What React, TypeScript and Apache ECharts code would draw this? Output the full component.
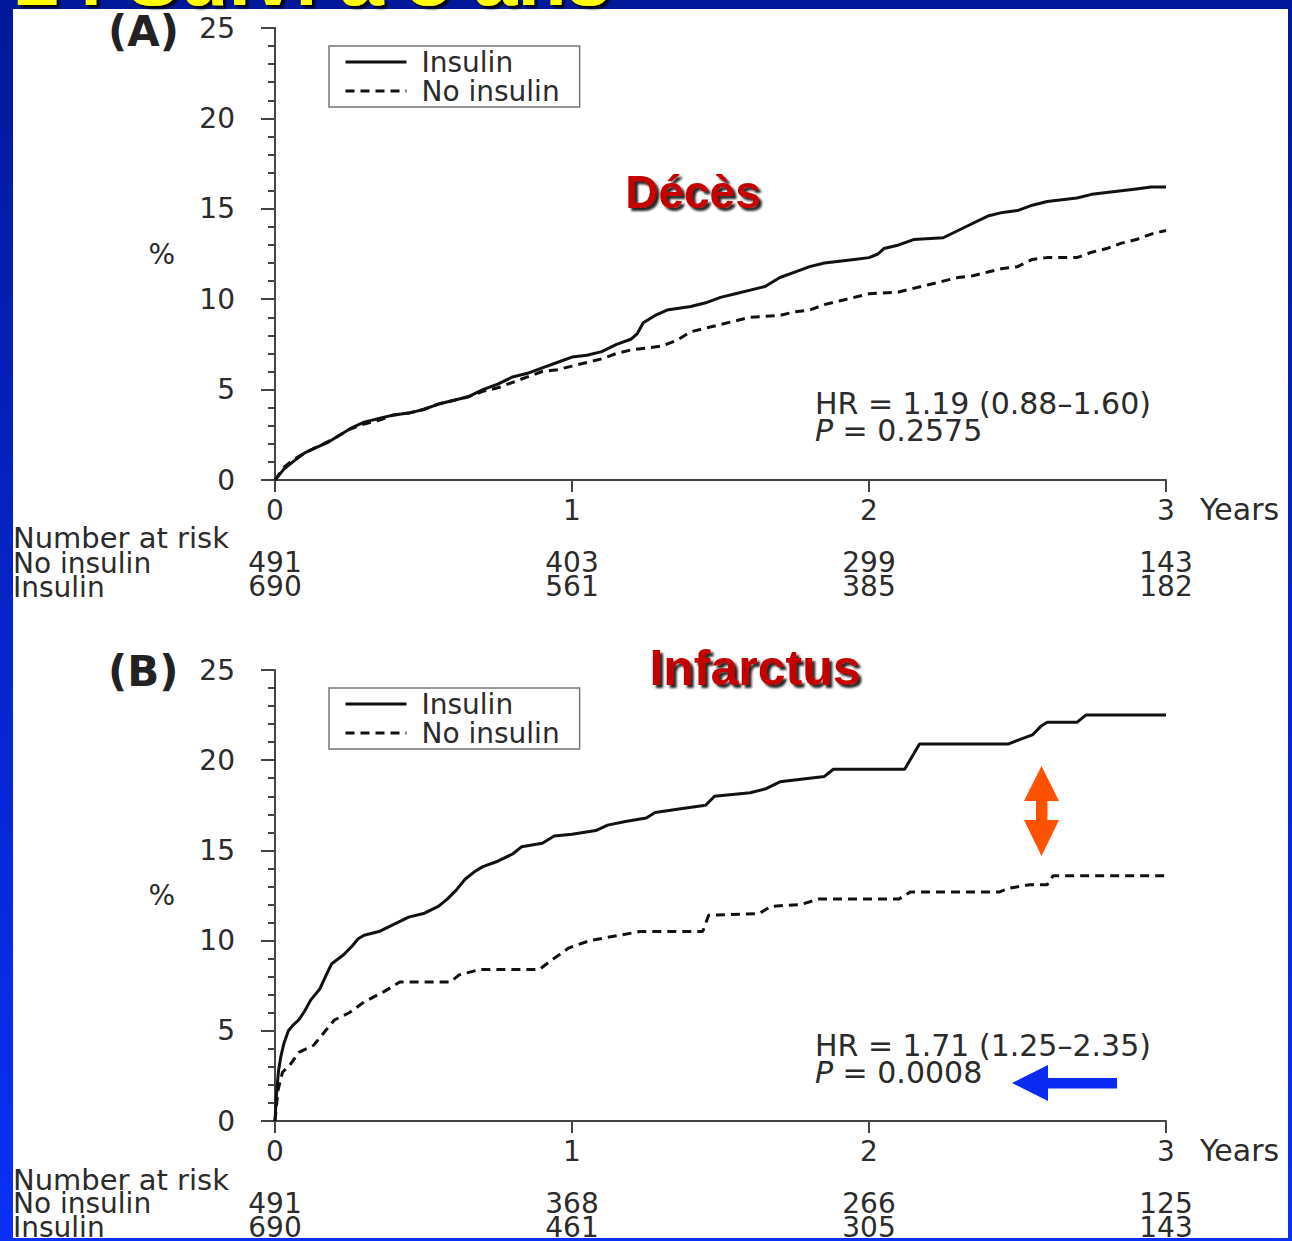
import React, { useEffect, useRef } from "react";
import * as echarts from "echarts";

// ---- data ----
const years = [0, 1, 2, 3];

// Panel A (Décès) cumulative %
const deathInsulin: [number, number][] = [
  [0, 0], [0.03, 0.6], [0.06, 1.0], [0.1, 1.5], [0.14, 1.8], [0.18, 2.1], [0.22, 2.5], [0.26, 2.9], [0.3, 3.2],
  [0.35, 3.4], [0.4, 3.6], [0.45, 3.7], [0.5, 3.9], [0.55, 4.2], [0.6, 4.4], [0.65, 4.6], [0.7, 5.0], [0.75, 5.3],
  [0.8, 5.7], [0.85, 5.9], [0.9, 6.2], [0.95, 6.5], [1.0, 6.8], [1.05, 6.9], [1.1, 7.1], [1.15, 7.5], [1.2, 7.8],
  [1.22, 8.1], [1.24, 8.7], [1.28, 9.1], [1.32, 9.4], [1.4, 9.6], [1.45, 9.8], [1.5, 10.1], [1.55, 10.3], [1.6, 10.5],
  [1.65, 10.7], [1.7, 11.2], [1.75, 11.5], [1.8, 11.8], [1.85, 12.0], [1.9, 12.1], [1.95, 12.2], [2.0, 12.3],
  [2.03, 12.5], [2.05, 12.8], [2.1, 13.0], [2.15, 13.3], [2.25, 13.4], [2.3, 13.8], [2.35, 14.2], [2.4, 14.6],
  [2.45, 14.8], [2.5, 14.9], [2.55, 15.2], [2.6, 15.4], [2.7, 15.6], [2.75, 15.8], [2.8, 15.9], [2.9, 16.1],
  [2.95, 16.2], [3.0, 16.2],
];
const deathNoInsulin: [number, number][] = [
  [0, 0], [0.03, 0.7], [0.06, 1.1], [0.1, 1.5], [0.15, 1.9], [0.2, 2.3], [0.25, 2.8], [0.3, 3.1], [0.35, 3.3],
  [0.4, 3.6], [0.45, 3.7], [0.5, 3.9], [0.55, 4.2], [0.6, 4.4], [0.65, 4.6], [0.7, 4.9], [0.75, 5.1], [0.8, 5.4],
  [0.85, 5.7], [0.9, 6.0], [0.95, 6.1], [1.0, 6.3], [1.05, 6.5], [1.1, 6.7], [1.15, 7.0], [1.2, 7.2], [1.25, 7.3],
  [1.3, 7.4], [1.35, 7.7], [1.4, 8.2], [1.45, 8.4], [1.5, 8.6], [1.55, 8.8], [1.6, 9.0], [1.7, 9.1], [1.75, 9.3],
  [1.8, 9.4], [1.85, 9.7], [1.9, 9.9], [1.95, 10.1], [2.0, 10.3], [2.1, 10.4], [2.15, 10.6], [2.2, 10.8],
  [2.25, 11.0], [2.3, 11.2], [2.35, 11.3], [2.4, 11.5], [2.45, 11.7], [2.5, 11.8], [2.55, 12.2], [2.6, 12.3],
  [2.7, 12.3], [2.75, 12.6], [2.8, 12.8], [2.85, 13.1], [2.9, 13.3], [2.95, 13.6], [3.0, 13.8],
];

// Panel B (Infarctus) cumulative %
const miInsulin: [number, number][] = [
  [0, 0], [0.005, 1.5], [0.012, 2.8], [0.02, 3.6], [0.03, 4.3], [0.045, 5.0], [0.06, 5.3], [0.08, 5.6], [0.1, 6.1],
  [0.12, 6.7], [0.15, 7.3], [0.17, 8.0], [0.19, 8.7], [0.23, 9.2], [0.26, 9.7], [0.28, 10.1], [0.3, 10.3],
  [0.35, 10.5], [0.4, 10.9], [0.45, 11.3], [0.5, 11.5], [0.55, 11.9], [0.58, 12.3], [0.61, 12.8], [0.64, 13.4],
  [0.67, 13.8], [0.7, 14.1], [0.75, 14.4], [0.8, 14.8], [0.83, 15.2], [0.9, 15.4], [0.94, 15.8], [1.0, 15.9],
  [1.08, 16.1], [1.12, 16.4], [1.18, 16.6], [1.25, 16.8], [1.28, 17.1], [1.36, 17.3], [1.45, 17.5], [1.48, 18.0],
  [1.6, 18.2], [1.65, 18.4], [1.7, 18.8], [1.85, 19.1], [1.88, 19.5], [2.12, 19.5], [2.17, 20.9], [2.47, 20.9],
  [2.5, 21.1], [2.55, 21.4], [2.58, 21.9], [2.6, 22.1], [2.7, 22.1], [2.73, 22.5], [3.0, 22.5],
];
const miNoInsulin: [number, number][] = [
  [0, 0], [0.01, 1.7], [0.025, 2.7], [0.05, 3.1], [0.08, 3.8], [0.13, 4.2], [0.17, 5.0], [0.2, 5.6], [0.25, 6.0],
  [0.3, 6.6], [0.37, 7.2], [0.42, 7.7], [0.59, 7.7], [0.62, 8.1], [0.69, 8.4], [0.89, 8.4], [0.93, 8.9],
  [0.99, 9.6], [1.06, 10.0], [1.16, 10.3], [1.23, 10.5], [1.44, 10.5], [1.46, 11.4], [1.63, 11.5], [1.67, 11.9],
  [1.77, 12.0], [1.83, 12.3], [2.1, 12.3], [2.14, 12.7], [2.44, 12.7], [2.47, 12.9], [2.54, 13.1], [2.6, 13.1],
  [2.62, 13.6], [3.0, 13.6],
];

// Number at risk
const riskRows = ["No insulin", "Insulin"];
const riskA_NoInsulin = [491, 403, 299, 143];
const riskA_Insulin = [690, 561, 385, 182];
const riskB_NoInsulin = [491, 368, 266, 125];
const riskB_Insulin = [690, 461, 305, 143];

const FONT = "DejaVu Sans";
const TXT = "#2b2b2b";

function mainX(gridIndex: number) {
  return {
    type: "value",
    gridIndex,
    min: 0,
    max: 3,
    interval: 1,
    offset: 4,
    axisLine: { show: true, lineStyle: { color: "#444", width: 2 } },
    axisTick: { show: true, length: 12, lineStyle: { color: "#444", width: 2 } },
    axisLabel: { fontSize: 28, margin: 12, color: TXT, fontFamily: FONT },
    splitLine: { show: false },
    name: "Years",
    nameLocation: "end",
    nameGap: 34,
    nameTextStyle: { fontSize: 30, color: TXT, fontFamily: FONT, verticalAlign: "top", padding: [14, 0, 0, 0] },
  };
}
function mainY(gridIndex: number) {
  return {
    type: "value",
    gridIndex,
    min: 0,
    max: 25,
    interval: 5,
    offset: 10,
    axisLine: { show: true, lineStyle: { color: "#444", width: 2 } },
    axisTick: { show: true, length: 14, lineStyle: { color: "#444", width: 2 } },
    minorTick: { show: true, splitNumber: 5, length: 7, lineStyle: { color: "#444", width: 2 } },
    axisLabel: { fontSize: 28, margin: 30, color: TXT, fontFamily: FONT },
    splitLine: { show: false },
    minorSplitLine: { show: false },
    name: "%",
    nameLocation: "middle",
    nameGap: 90,
    nameRotate: 0,
    nameTextStyle: { fontSize: 28, color: TXT, fontFamily: FONT },
  };
}
function riskX(gridIndex: number) {
  return { type: "value", gridIndex, min: 0, max: 3, show: false };
}
function riskY(gridIndex: number) {
  return {
    type: "category",
    gridIndex,
    data: riskRows,
    inverse: true,
    axisLine: { show: false },
    axisTick: { show: false },
    axisLabel: {
      interval: 0,
      align: "left",
      margin: 262,
      fontSize: 28,
      lineHeight: 22,
      color: TXT,
      fontFamily: FONT,
    },
  };
}
function curve(name: string, data: [number, number][], axis: number, dashed: boolean) {
  return {
    type: "line",
    name,
    xAxisIndex: axis,
    yAxisIndex: axis,
    data,
    symbol: "none",
    showSymbol: false,
    lineStyle: { color: "#111", width: 3, type: dashed ? [9, 6] : "solid" },
    itemStyle: { color: "#111" },
    z: 3,
  };
}
function riskSeries(name: string, row: string, values: number[], axis: number) {
  return {
    type: "scatter",
    name,
    xAxisIndex: axis,
    yAxisIndex: axis,
    symbolSize: 0.001,
    itemStyle: { color: "#000", opacity: 1 },
    data: years.map((y, i) => [y, row, values[i]]),
    label: {
      show: true,
      position: [0, 0],
      align: "center",
      verticalAlign: "middle",
      formatter: (p: any) => String(p.value[2]),
      fontSize: 28,
      lineHeight: 22,
      color: TXT,
      opacity: 1,
      textBorderWidth: 0,
      fontFamily: FONT,
    },
  };
}
function legend(top: number) {
  return {
    orient: "vertical",
    left: 329,
    top,
    data: ["Insulin", "No insulin"],
    selectedMode: false,
    itemWidth: 61,
    itemHeight: 14,
    itemGap: 1,
    padding: [2, 20, 2, 15],
    borderColor: "#777",
    borderWidth: 1.5,
    itemStyle: { color: "rgba(0,0,0,0)", borderWidth: 0, opacity: 0 },
    lineStyle: { width: 3 },
    textStyle: { fontSize: 28, lineHeight: 24, color: TXT, fontFamily: FONT, padding: [0, 0, 0, 10] },
  };
}

function hrText(y: number, hr: string, p: string) {
  return [
    {
      type: "text",
      left: 815,
      top: y - 16,
      style: { text: hr, fontSize: 30, lineHeight: 24, fill: TXT, fontFamily: FONT },
    },
    {
      type: "text",
      left: 815,
      top: y + 11,
      style: {
        text: "{i|P} = " + p,
        fontSize: 30,
        lineHeight: 24,
        fill: TXT,
        fontFamily: FONT,
        rich: { i: { fontStyle: "italic", fontSize: 30, lineHeight: 24, fontFamily: FONT, fill: TXT } },
      },
    },
  ];
}

function redTitle(text: string, cx: number, cy: number, size: number, family: string) {
  return {
    type: "text",
    x: cx,
    y: cy,
    style: {
      text,
      fontSize: size,
      fontWeight: "bold",
      fontFamily: family,
      fill: "#c40000",
      align: "center",
      verticalAlign: "middle",
      textShadowColor: "rgba(0,0,0,0.85)",
      textShadowOffsetX: 3,
      textShadowOffsetY: 3,
      textShadowBlur: 2,
    },
  };
}

export default function App() {
  const ref = useRef<HTMLDivElement>(null);
  useEffect(() => {
    if (!ref.current) return;
    const chart = echarts.init(ref.current, null, { renderer: "svg" });
    chart.setOption({
      animation: false,
      backgroundColor: "transparent",
      grid: [
        { left: 275, top: 28, width: 891, height: 452 },
        { left: 275, top: 551, width: 891, height: 48 },
        { left: 275, top: 670, width: 891, height: 451 },
        { left: 275, top: 1192, width: 891, height: 48 },
      ],
      xAxis: [mainX(0), riskX(1), mainX(2), riskX(3)],
      yAxis: [mainY(0), riskY(1), mainY(2), riskY(3)],
      legend: [legend(46), legend(688)],
      series: [
        curve("Insulin", deathInsulin, 0, false),
        curve("No insulin", deathNoInsulin, 0, true),
        curve("Insulin", miInsulin, 2, false),
        curve("No insulin", miNoInsulin, 2, true),
        riskSeries("riskA-no", "No insulin", riskA_NoInsulin, 1),
        riskSeries("riskA-ins", "Insulin", riskA_Insulin, 1),
        riskSeries("riskB-no", "No insulin", riskB_NoInsulin, 3),
        riskSeries("riskB-ins", "Insulin", riskB_Insulin, 3),
      ],
      graphic: [
        {
          type: "text",
          x: 15,
          y: -23,
          style: {
            text: "24 Suivi à 3 ans",
            fontSize: 80,
            lineHeight: 36,
            fontWeight: "bold",
            fontFamily: "Liberation Sans",
            fill: "#ffff00",
            verticalAlign: "middle",
            textShadowColor: "rgba(0,0,0,0.9)",
            textShadowOffsetX: 3,
            textShadowOffsetY: 3,
            textShadowBlur: 2,
          },
        },
        { type: "text", left: 108, top: 10, style: { text: "(A)", fontSize: 42, lineHeight: 36, fontWeight: "bold", fontFamily: FONT, fill: "#222" } },
        { type: "text", left: 108, top: 650, style: { text: "(B)", fontSize: 42, lineHeight: 36, fontWeight: "bold", fontFamily: FONT, fill: "#222" } },
        { type: "text", left: 13, top: 523, style: { text: "Number at risk", fontSize: 29, lineHeight: 22, fontFamily: FONT, fill: TXT } },
        { type: "text", left: 13, top: 1165, style: { text: "Number at risk", fontSize: 29, lineHeight: 22, fontFamily: FONT, fill: TXT } },
        redTitle("Décès", 693, 192, 46, "Liberation Sans"),
        redTitle("Infarctus", 755, 668, 50, "Liberation Sans Narrow, Liberation Sans"),
        ...hrText(404, "HR = 1.19 (0.88\u20131.60)", "0.2575"),
        ...hrText(1046, "HR = 1.71 (1.25\u20132.35)", "0.0008"),
        {
          type: "polygon",
          shape: {
            points: [
              [1041.5, 766], [1059, 801], [1047.5, 801], [1047.5, 820], [1059, 820], [1041.5, 856],
              [1024, 820], [1036, 820], [1036, 801], [1024, 801],
            ],
          },
          style: { fill: "#ff5200" },
        },
        {
          type: "polygon",
          shape: {
            points: [
              [1012, 1083], [1048, 1065], [1048, 1078], [1117, 1078], [1117, 1088.5], [1048, 1088.5], [1048, 1101],
            ],
          },
          style: { fill: "#0a2af2" },
        },
      ],
    });
    return () => chart.dispose();
  }, []);

  return (
    <div
      style={{
        position: "absolute",
        left: 0,
        top: 0,
        width: 1292,
        height: 1241,
        background: "linear-gradient(to bottom, #02189a, #0a30f8)",
        overflow: "hidden",
      }}
    >
      <div style={{ position: "absolute", left: 13, top: 9, width: 1275, height: 1229, background: "#fff" }} />
      <div ref={ref} style={{ position: "absolute", left: 0, top: 0, width: 1292, height: 1241 }} />
    </div>
  );
}
